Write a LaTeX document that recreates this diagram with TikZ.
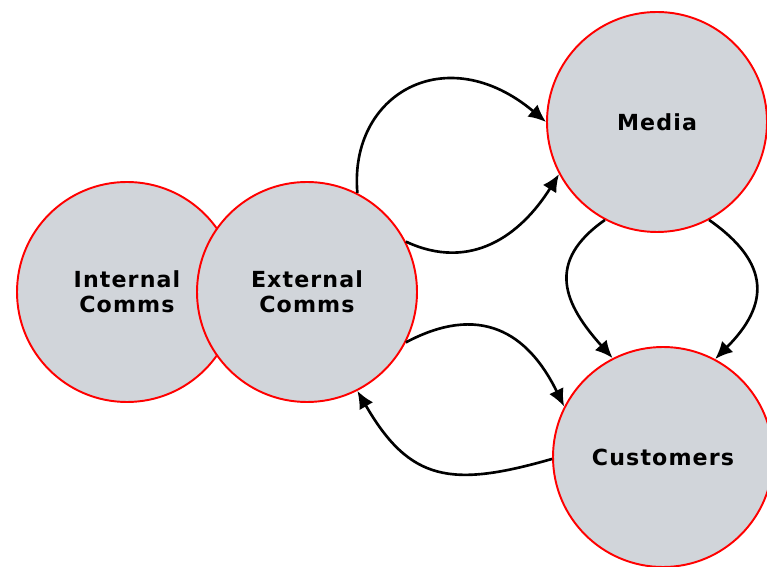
\documentclass[tikz,border=0pt]{standalone}
\usepackage{fontspec}
\usepackage{tikz}
\usetikzlibrary{arrows.meta}
\newfontfamily\bubblefont[LetterSpace=5]{DejaVu Sans}
\definecolor{bubblegray}{HTML}{D1D5DA}

\begin{document}
\begin{tikzpicture}[
    bubble/.style={circle, draw=red, fill=bubblegray, line width=1.1pt,
      minimum size=4.4cm, inner sep=0, align=center,
      font=\bubblefont\bfseries\fontsize{12.6pt}{14pt}\selectfont},
    flow/.style={->, >={Latex[length=10pt, width=9pt]}, line width=1.5pt}
  ]
  \useasboundingbox (0, 0) rectangle (15.34, 11.32);

  \node[bubble] (internal) at (2.54, 5.48) {Internal\\Comms};
  \node[bubble] (external) at (6.14, 5.48) {External\\Comms};
  \node[bubble] (media) at (13.14, 8.88) {Media};
  \node[bubble] (customers) at (13.26, 2.18) {Customers};

  % external <-> media
  \draw[flow] (external.63) to[out=95, in=140, out distance=2cm, in distance=2.6cm] (media.180);
  \draw[flow] (external.27) to[out=-25, in=238, looseness=1.1] (media.208);

  % media -> customers
  \draw[flow] (media.242) to[out=215, in=132, looseness=1.35] (customers.117);
  \draw[flow] (media.298) to[out=-35, in=45, looseness=1.4] (customers.62);

  % external <-> customers
  \draw[flow] (external.-27) to[out=28, in=116, looseness=1.25] (customers.153);
  \draw[flow] (customers.181) to[out=196, in=-60, looseness=1.3] (external.-63);
\end{tikzpicture}
\end{document}
